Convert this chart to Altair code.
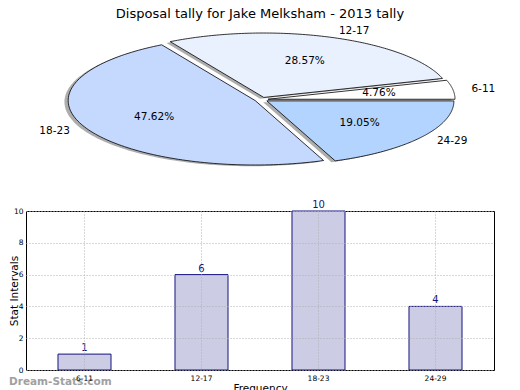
import altair as alt
import pandas as pd

# ---- data ----
categories = ["6-11", "12-17", "18-23", "24-29"]
counts = [1, 6, 10, 4]
pie_colors = ["#ffffff", "#eaf1fe", "#c5d8fe", "#b3d4fe"]
y_ticks = [0, 2, 4, 6, 8, 10]

title_text = "Disposal tally for Jake Melksham - 2013 tally"
y_title = "Stat Intervals"
x_title = "Frequency"
watermark = "Dream-Stats.com"

df = pd.DataFrame({"category": categories, "value": counts,
                   "idx": list(range(len(categories)))})
wm_df = pd.DataFrame({"t": [watermark]})

FONT = "DejaVu Sans"
EXPLODE = 0.036
N = 120

xs = alt.Scale(domain=[-1.258, 1.244], nice=False, zero=False)
ys = alt.Scale(domain=[-1.419, 1.220], nice=False, zero=False)

base = (
    alt.Chart(df)
    .transform_joinaggregate(total="sum(value)")
    .transform_window(cum="sum(value)", sort=[alt.SortField("idx")], frame=[None, 0])
    .transform_calculate(
        t0="2*PI*(datum.cum-datum.value)/datum.total",
        t1="2*PI*datum.cum/datum.total",
    )
    .transform_calculate(tm="(datum.t0+datum.t1)/2")
    .transform_calculate(ex=f"{EXPLODE}*cos(datum.tm)", ey=f"{EXPLODE}*sin(datum.tm)")
)

poly = (
    base.transform_calculate(s=f"sequence(0, {N + 3})")
    .transform_flatten(["s"])
    .transform_calculate(
        onarc=f"datum.s >= 1 && datum.s <= {N + 1} ? 1 : 0",
        ang=f"datum.t0 + (datum.t1 - datum.t0) * clamp(datum.s - 1, 0, {N}) / {N}",
    )
    .transform_calculate(
        px="datum.ex + datum.onarc * cos(datum.ang)",
        py="datum.ey + datum.onarc * sin(datum.ang)",
    )
)

shadow = poly.transform_calculate(
    sx="datum.px - 0.02", sy="datum.py - 0.02"
).mark_line(strokeOpacity=0).encode(
    x=alt.X("sx:Q", scale=xs, axis=None),
    y=alt.Y("sy:Q", scale=ys, axis=None),
    fill=alt.value("#4a4a4a"),
    fillOpacity=alt.value(0.45),
    detail="category:N",
    order=alt.Order("s:Q"),
)

wedges = poly.mark_line(stroke="black", strokeWidth=0.8).encode(
    x=alt.X("px:Q", scale=xs, axis=None),
    y=alt.Y("py:Q", scale=ys, axis=None),
    fill=alt.Fill("category:N", scale=alt.Scale(domain=categories, range=pie_colors), legend=None),
    detail="category:N",
    order=alt.Order("s:Q"),
)

labs = base.transform_calculate(
    lx="datum.ex + 1.1*cos(datum.tm)",
    ly="datum.ey + 1.1*sin(datum.tm)",
    qx="datum.ex + 0.6*cos(datum.tm)",
    qy="datum.ey + 0.6*sin(datum.tm)",
    pct="format(datum.value/datum.total*100, '.2f') + '%'",
)

pct_text = labs.mark_text(fontSize=10.5, font=FONT, color="black").encode(
    x=alt.X("qx:Q", scale=xs, axis=None),
    y=alt.Y("qy:Q", scale=ys, axis=None),
    text="pct:N",
)
lab_right = labs.transform_filter("cos(datum.tm) >= 0").mark_text(
    fontSize=10.5, font=FONT, align="left", color="black"
).encode(
    x=alt.X("lx:Q", scale=xs, axis=None),
    y=alt.Y("ly:Q", scale=ys, axis=None),
    text="category:N",
)
lab_left = labs.transform_filter("cos(datum.tm) < 0").mark_text(
    fontSize=10.5, font=FONT, align="right", color="black"
).encode(
    x=alt.X("lx:Q", scale=xs, axis=None),
    y=alt.Y("ly:Q", scale=ys, axis=None),
    text="category:N",
)

pie = alt.layer(shadow, wedges, pct_text, lab_right, lab_left).properties(
    width=468,
    height=170,
    title=alt.TitleParams(title_text, fontSize=13, font=FONT, fontWeight="normal",
                          anchor="middle", offset=0, color="black"),
    view=alt.ViewBackground(stroke=None),
)

# ---- bar chart ----
xb = alt.X(
    "category:N",
    sort=categories,
    scale=alt.Scale(paddingInner=0.547, paddingOuter=0.2735),
    axis=alt.Axis(title=x_title, labelAngle=0, labelFontSize=7.5, labelPadding=4,
                  ticks=False, domain=False, grid=True, gridDash=[1, 2],
                  gridColor="#b0b0b0", titleFontSize=10.5, titlePadding=2,
                  titleFontWeight="normal", labelColor="black", titleColor="black",
                  zindex=1, labelFont=FONT, titleFont=FONT),
)
yb = alt.Y(
    "value:Q",
    scale=alt.Scale(domain=[0, 10], nice=False),
    axis=alt.Axis(title=y_title, values=y_ticks, labelOverlap=False, labelFontSize=7.5,
                  labelPadding=3, ticks=False, domain=False, grid=True,
                  gridDash=[1, 2], gridColor="#b0b0b0", titleFontSize=10.5,
                  titleFontWeight="normal", titleX=-7, titleBaseline="bottom",
                  labelColor="black", titleColor="black", zindex=1,
                  labelFont=FONT, titleFont=FONT),
)

bars = alt.Chart(df).mark_bar(fill="#ccccE5", stroke="#141480", strokeWidth=1).encode(x=xb, y=yb)
vals = alt.Chart(df).mark_text(baseline="bottom", dy=-1, color="#141480", fontSize=10,
                               font=FONT).encode(x=xb, y=yb, text="value:Q")
wm = alt.Chart(wm_df).mark_text(align="left", baseline="middle", fontSize=10.5,
                                fontWeight="bold", color="#a0a0a0", font=FONT).encode(
    x=alt.value(-17), y=alt.value(171), text="t:N")

bar_chart = alt.layer(bars, vals, wm).properties(width=468, height=159)

chart = alt.vconcat(pie, bar_chart, spacing=8).configure(
    font=FONT, padding=0
).configure_view(stroke="black", strokeWidth=1)

chart.save("out.html", embed_options={"renderer": "svg", "actions": False})
